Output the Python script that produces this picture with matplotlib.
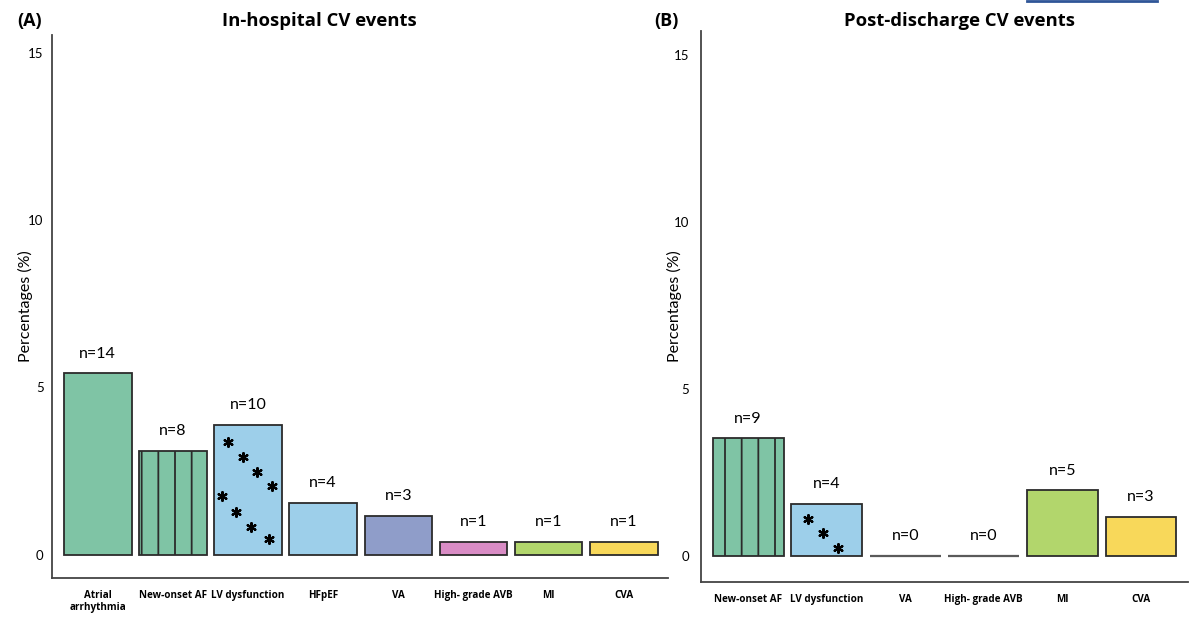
""" Bar charts of in-hospital and post-discharge CV events. """

import matplotlib
matplotlib.use("Agg")
import matplotlib.pyplot as plt
from matplotlib.lines import Line2D

plt.rcParams["font.family"] = ["Lato", "DejaVu Sans"]
plt.rcParams["hatch.linewidth"] = 1.3
BOLD = ["Open Sans", "DejaVu Sans"]

IN_CATS = ["Atrial\narrhythmia", "New-onset AF", "LV dysfunction", "HFpEF",
           "VA", "High- grade AVB", "MI", "CVA"]
IN_N = [14, 8, 10, 4, 3, 1, 1, 1]
IN_PCT = [5.43, 3.10, 3.88, 1.55, 1.16, 0.39, 0.39, 0.39]

POST_CATS = ["New-onset AF", "LV dysfunction", "VA", "High- grade AVB", "MI", "CVA"]
POST_N = [9, 4, 0, 0, 5, 3]
POST_PCT = [3.53, 1.57, 0.0, 0.0, 1.96, 1.18]

COLORS = {
    "Atrial\narrhythmia": "#7fc4a5",
    "New-onset AF": "#7fc4a5",
    "LV dysfunction": "#9dcfea",
    "HFpEF": "#9dcfea",
    "VA": "#8f9dc9",
    "High- grade AVB": "#d98cc5",
    "MI": "#b2d66c",
    "CVA": "#f8d85a",
}

# asterisk texture inside the LV dysfunction bars (fractions of bar width / height)
STARS_IN = [(0.20, 0.87), (0.42, 0.75), (0.63, 0.64), (0.85, 0.53),
            (0.12, 0.45), (0.32, 0.33), (0.54, 0.21), (0.81, 0.12)]
STARS_POST = [(0.24, 0.70), (0.45, 0.43), (0.66, 0.15)]


def panel(ax, cats, pct, ns, stars, ylim, xlim, ypad, label_x):
    for i, (c, v, n) in enumerate(zip(cats, pct, ns)):
        edge = "#2b2b2b" if v > 0 else "#5a5a5a"
        hatch = "|" if c == "New-onset AF" else None
        bar = ax.bar(i, v, width=0.9, color=COLORS[c], edgecolor=edge,
                     linewidth=1.3 if v > 0 else 1.6, hatch=hatch)[0]
        ax.annotate("n={0}".format(n), (i, v), xytext=(0, 9),
                    textcoords="offset points", ha="center", va="bottom",
                    fontsize=11.5)
        if c == "LV dysfunction":
            x0 = bar.get_x()
            w = bar.get_width()
            h = bar.get_height()
            ax.scatter([x0 + fx * w for fx, _ in stars],
                       [fy * h for _, fy in stars],
                       marker=(6, 2, 0), s=40, color="black", linewidths=1.6,
                       zorder=3)

    ax.set_xticks(range(len(cats)))
    ax.set_xticklabels(cats, fontsize=7.1, fontweight="bold", family=BOLD,
                       linespacing=1.1)
    ax.set_yticks([0, 5, 10, 15])
    ax.tick_params(axis="both", length=0)
    ax.tick_params(axis="y", pad=ypad, labelsize=9.5)
    ax.tick_params(axis="x", pad=9)
    ax.set_ylim(*ylim)
    ax.set_xlim(*xlim)
    ax.set_ylabel("Percentages (%)", fontsize=11.5)
    ax.yaxis.set_label_coords(label_x, 0.5)
    for s in ("top", "right"):
        ax.spines[s].set_visible(False)
    for s in ("left", "bottom"):
        ax.spines[s].set_color("#444444")
        ax.spines[s].set_linewidth(1.3)


fig = plt.figure(figsize=(12, 6.26), dpi=100)
ax1 = fig.add_axes([0.0433, 0.0767, 0.5134, 0.8673])
ax2 = fig.add_axes([0.5842, 0.0703, 0.4058, 0.8802])

panel(ax1, IN_CATS, IN_PCT, IN_N, STARS_IN, (-0.70, 15.54), (-0.61, 7.59),
      6, -0.031)
panel(ax2, POST_CATS, POST_PCT, POST_N, STARS_POST, (-0.78, 15.72), (-0.60, 5.60),
      8.5, -0.039)

fig.text(0.014, 0.966, "(A)", fontsize=13, fontweight="bold", va="center",
         family=BOLD)
fig.text(0.266, 0.966, "In-hospital CV events", fontsize=13.3, fontweight="bold",
         ha="center", va="center", family=BOLD)
fig.text(0.545, 0.966, "(B)", fontsize=13, fontweight="bold", va="center",
         family=BOLD)
fig.text(0.800, 0.966, "Post-discharge CV events", fontsize=13.3, fontweight="bold",
         ha="center", va="center", family=BOLD)
fig.add_artist(Line2D([0.856, 0.964], [0.998, 0.998], color="#2f5597",
                      linewidth=2, transform=fig.transFigure))

fig.savefig("out.png", dpi=100)
